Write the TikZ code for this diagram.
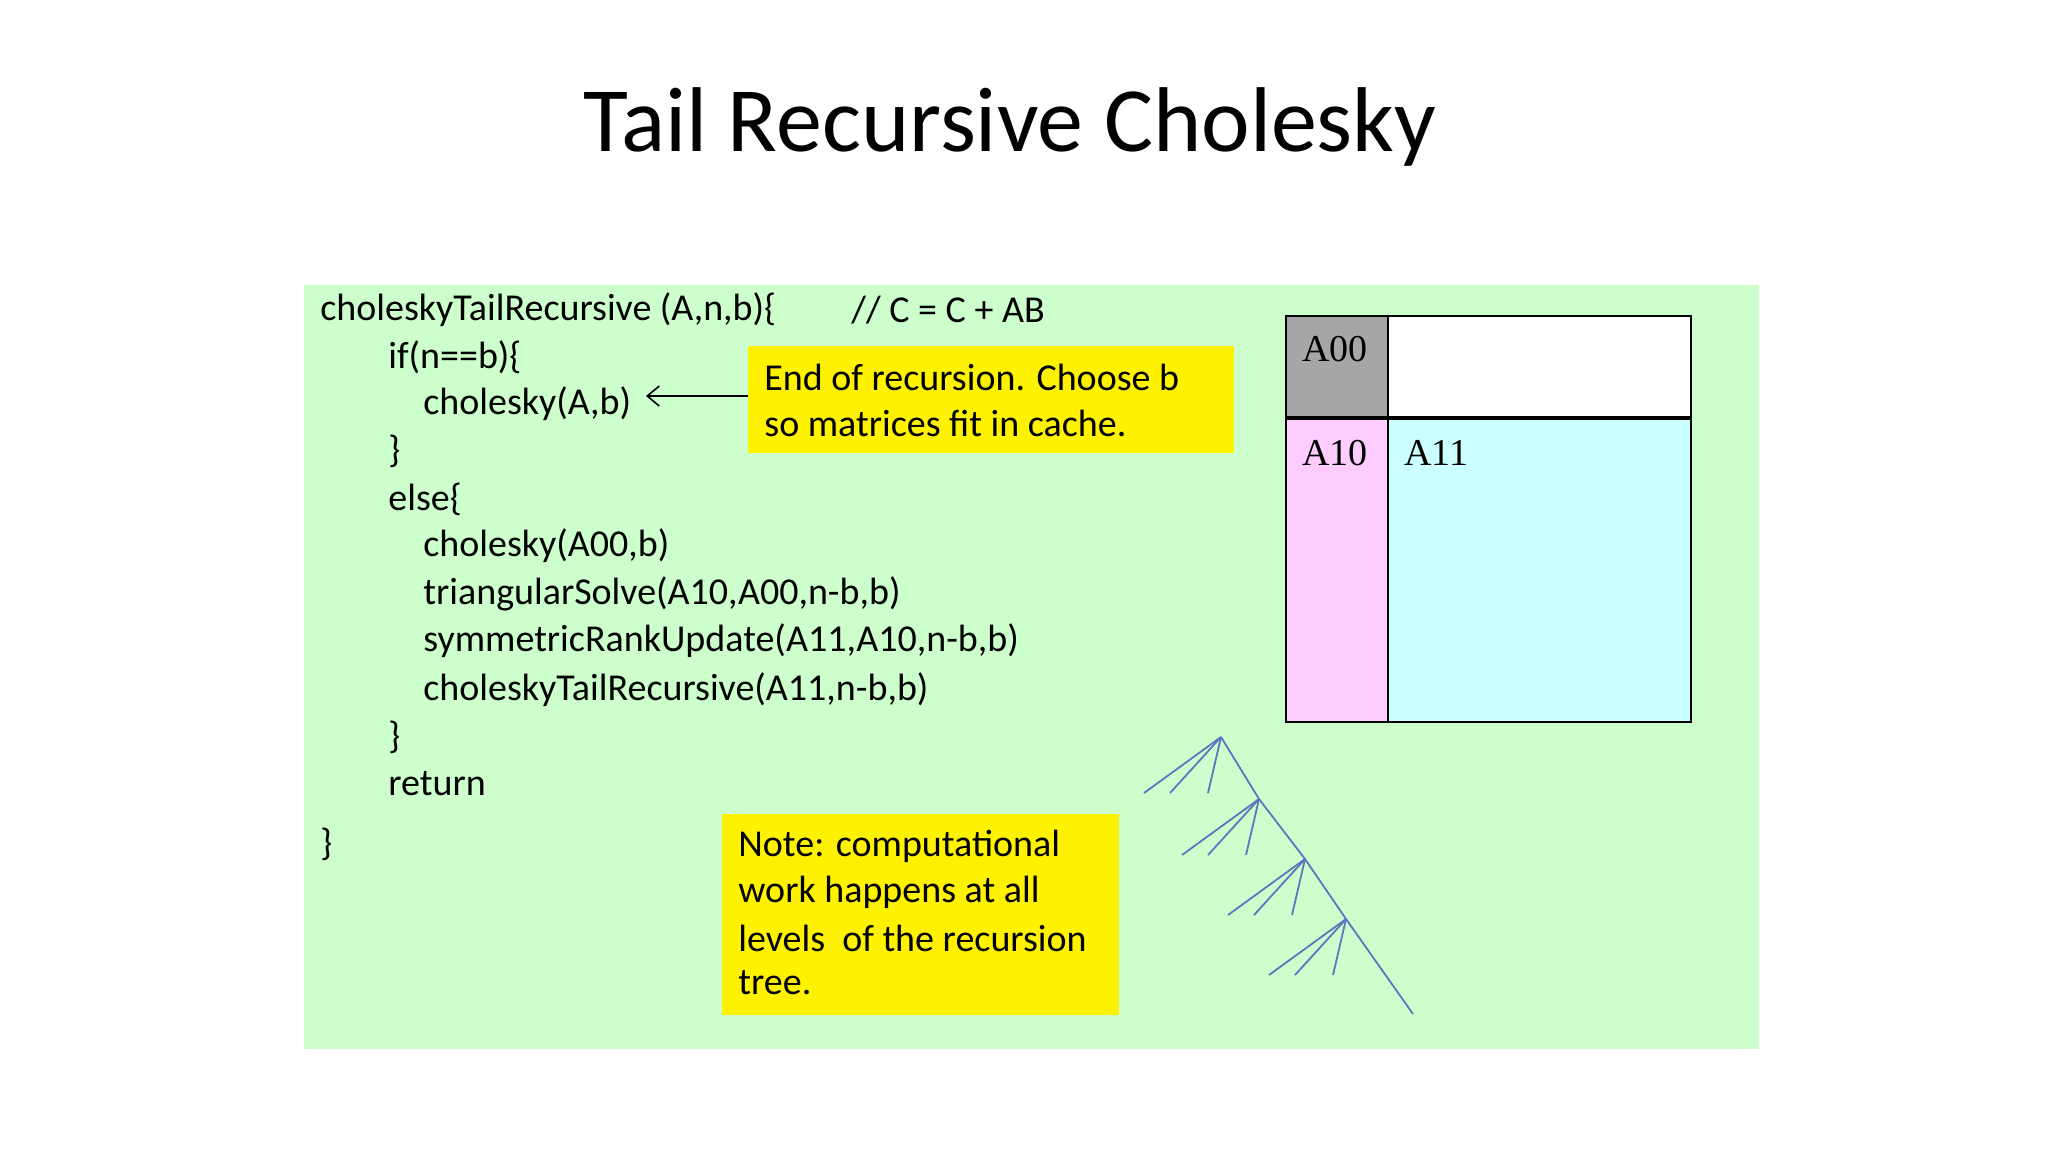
\documentclass[tikz,border=0pt]{standalone}
\usepackage{fontspec}
\usetikzlibrary{arrows.meta}
\setmainfont{Carlito}
\newfontfamily\tms{Liberation Serif}
\definecolor{panel}{RGB}{204,255,204}
\definecolor{pinkc}{RGB}{255,204,255}
\definecolor{cyanc}{RGB}{204,255,255}
\definecolor{treec}{RGB}{90,120,190}
\begin{document}
\begin{tikzpicture}[x=0.5pt,y=-0.5pt,
  code/.style={anchor=west,inner sep=0pt,font=\fontsize{19}{22}\selectfont},
  lab/.style={anchor=center,inner sep=0pt,font=\tms\fontsize{19}{22}\selectfont},
  tree/.style={draw=treec,line width=0.9pt}]
\useasboundingbox (0,0) rectangle (2048,1152);
\fill[white] (0,0) rectangle (2048,1152);
\node[font=\fontsize{46}{50}\selectfont] (title) at (1010,127) {Tail Recursive Cholesky};
\fill[panel] (304,285) rectangle (1759,1049);
% code
\node[code] (l1) at (320,310) {choleskyTailRecursive (A,n,b)\{};
\node[code] (cm) at (851,310) {// C = C + AB};
\node[code] (l2) at (388,357) {if(n==b)\{};
\node[code] (l3) at (423,404) {cholesky(A,b)};
\node[code] (l4) at (388,451) {\}};
\node[code] (l5) at (388,499) {else\{};
\node[code] (l6) at (423,546) {cholesky(A00,b)};
\node[code] (l7) at (423,594) {triangularSolve(A10,A00,n-b,b)};
\node[code] (l8) at (423,641) {symmetricRankUpdate(A11,A10,n-b,b)};
\node[code] (l9) at (423,690) {choleskyTailRecursive(A11,n-b,b)};
\node[code] (l10) at (388,737) {\}};
\node[code] (l11) at (388,784) {return};
\node[code] (l12) at (320,844) {\}};
% yellow boxes
\fill[yellow] (748,346) rectangle (1234,453);
\node[code] (y1) at (764,377) {End of recursion. Choose b};
\node[code] (y2) at (764,423) {so matrices fit in cache.};
\coordinate (ys) at (748,396);
\coordinate (ye) at (646,396);
\draw[-{Straight Barb[length=6pt,width=10pt]},line width=0.8pt] (ys) -- (ye);
\fill[yellow] (722,814) rectangle (1119,1015);
\node[code] (n1) at (738,846) {Note: computational};
\node[code] (n2) at (738,892) {work happens at all};
\node[code] (n3) at (738,938) {levels\ \ of the recursion};
\node[code] (n4) at (738,983) {tree.};
% matrix
\fill[gray!70] (1286,316) rectangle (1388,418);
\fill[white] (1388,316) rectangle (1691,418);
\fill[pinkc] (1286,418) rectangle (1388,722);
\fill[cyanc] (1388,418) rectangle (1691,722);
\draw[line width=1.2pt] (1286,316) rectangle (1691,722);
\draw[line width=1.2pt] (1388,316) -- (1388,722);
\draw[line width=2pt] (1286,418) -- (1691,418);
\node[lab] (a00) at (1335,349) {A00};
\node[lab] (a10) at (1335,453) {A10};
\node[lab] (a11) at (1436,453) {A11};
% tree
\coordinate (t1) at (1221,737);
\coordinate (t2) at (1259,799);
\coordinate (t3) at (1305,859);
\coordinate (t4) at (1346,919);
\coordinate (t5) at (1413,1014);
\draw[tree] (t1) -- (t2) -- (t3) -- (t4) -- (t5);
\foreach \t in {t1,t2,t3,t4}{
  \draw[tree] (\t) -- ++(-77,56);
  \draw[tree] (\t) -- ++(-51,56);
  \draw[tree] (\t) -- ++(-13,56);
}
\end{tikzpicture}
\end{document}
